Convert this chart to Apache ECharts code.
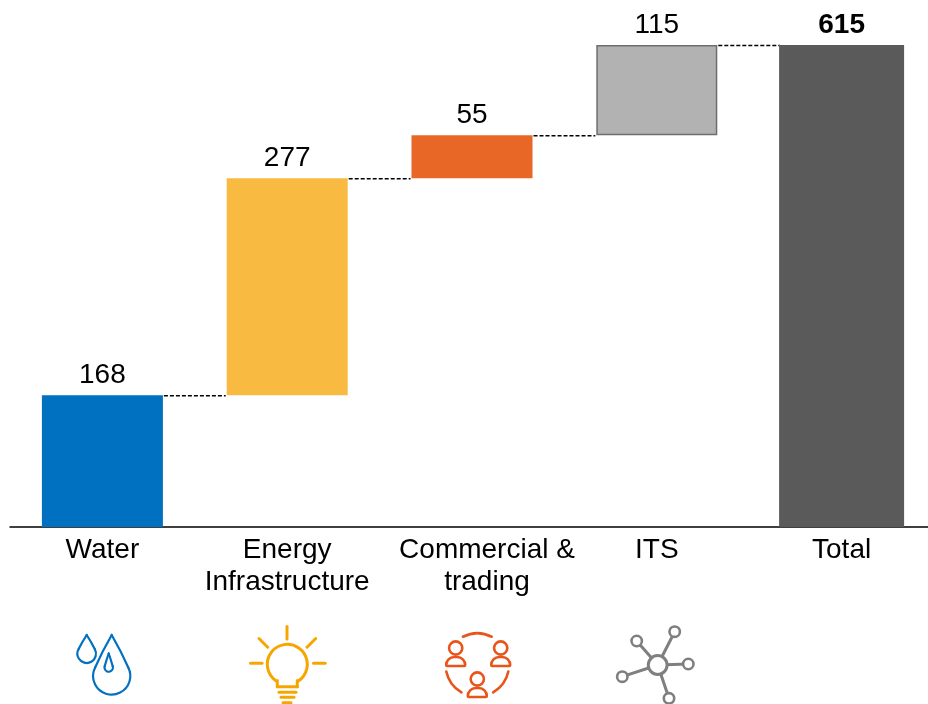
<!DOCTYPE html>
<html><head><meta charset="utf-8">
<style>html,body{margin:0;padding:0;background:#fff}#c{width:928px;height:704px}</style>
<script src="https://cdn.jsdelivr.net/npm/echarts@6/dist/echarts.min.js"></script>
</head><body><div id="c"></div>
<script>
const categories = ['Water', 'Energy\nInfrastructure', 'Commercial &\ntrading', 'ITS', 'Total'];
const increments = [168, 277, 55, 115];
const totalValue = 615;
const barColors = ['#0070C0', '#F8BA41', '#E96726', '#B2B2B2'];
const FONT = '"Liberation Sans", Arial, sans-serif';

let run = 0;
const bases = [], levels = [];
increments.forEach(v => { bases.push(run); run += v; levels.push(run); });

const BAR = 121;
const stroke = (color, w) => ({ stroke: color, lineWidth: w, fill: null, lineCap: 'round' });
const line = (x1, y1, x2, y2, color, w) => ({ type: 'line', silent: true, shape: { x1, y1, x2, y2 }, style: stroke(color, w) });
const curve = (x1, y1, x2, y2, cpx1, cpy1, color, w) => ({ type: 'bezierCurve', silent: true, shape: { x1, y1, x2, y2, cpx1, cpy1 }, style: stroke(color, w) });
const circle = (cx, cy, r, color, w, fill) => ({ type: 'circle', silent: true, shape: { cx, cy, r }, style: Object.assign(stroke(color, w), { fill: fill || null }) });
const arc = (cx, cy, r, a0, a1, color, w) => ({ type: 'arc', silent: true, shape: { cx, cy, r, startAngle: a0, endAngle: a1, clockwise: true }, style: stroke(color, w) });
const deg = d => d * Math.PI / 180;

function drop(x, yTop, r, yC, color, w) {
  const s = r / (yC - yTop), t = Math.asin(s), c = Math.cos(t);
  const px = r * c, py = yC - r * s, bulge = r * 0.06;
  const mx = px / 2 + bulge, my = (yTop + py) / 2;
  return [
    arc(x, yC, r, -t, Math.PI + t, color, w),
    curve(x, yTop, x + px, py, x + mx, my, color, w),
    curve(x, yTop, x - px, py, x - mx, my, color, w)
  ];
}
function person(cx, headY, bodyTop, bodyBottom, color, w) {
  return [
    circle(cx, headY, 6.6, color, w),
    { type: 'rect', silent: true, shape: { x: cx - 9.5, y: bodyTop, width: 19, height: bodyBottom - bodyTop, r: [8, 8, 1, 1] }, style: stroke(color, w) }
  ];
}
const BLUE = '#0070C0', AMB = '#F7A600', ORG = '#E8541A', GRY = '#7F7F7F';
const hub = [657.7, 665];
const nodes = [[674.7, 631.7], [636.7, 641], [688.3, 664], [622.3, 676.7], [669, 698.3]];
const icons = [
  ...drop(86.7, 635, 9.3, 653.7, BLUE, 2.2),
  ...drop(111.7, 635, 18.6, 676, BLUE, 2.2),
  ...drop(108.7, 653.5, 4.2, 667.5, BLUE, 2.2),

  arc(287.3, 664.3, 20, deg(125), deg(55), AMB, 3),
  line(277.3, 680.5, 277.3, 686.7, AMB, 3), line(297.3, 680.5, 297.3, 686.7, AMB, 3),
  line(277.3, 686.7, 297.3, 686.7, AMB, 3),
  line(279, 692.3, 296, 692.3, AMB, 3), line(281, 697.3, 294, 697.3, AMB, 3), line(283, 702.7, 291, 702.7, AMB, 3),
  line(287, 626.5, 287, 639, AMB, 3),
  line(259, 638.5, 267.7, 647.2, AMB, 3), line(315.7, 638.5, 307, 647.2, AMB, 3),
  line(250.5, 663.3, 262, 663.3, AMB, 3), line(313.5, 663.3, 325.2, 663.3, AMB, 3),

  arc(477.3, 665, 31.7, deg(-117), deg(-63), ORG, 2.6),
  arc(477.3, 665, 31.7, deg(12), deg(60), ORG, 2.6),
  arc(477.3, 665, 31.7, deg(120), deg(168), ORG, 2.6),
  ...person(455.7, 648, 657, 666, ORG, 2.6),
  ...person(500.7, 648, 657, 666, ORG, 2.6),
  ...person(477.3, 679, 688, 697, ORG, 2.6),

  ...nodes.map(n => line(hub[0], hub[1], n[0], n[1], GRY, 3)),
  ...nodes.map(n => circle(n[0], n[1], 5.2, GRY, 2.6, '#fff')),
  circle(hub[0], hub[1], 9.4, GRY, 3, '#fff')
];

const valueLabel = (weight) => ({
  show: true, position: 'top', distance: 6, color: '#000',
  fontFamily: FONT, fontSize: 28, fontWeight: weight,
  formatter: p => String(p.value)
});

const chart = echarts.init(document.getElementById('c'), null, { renderer: 'canvas' });
chart.setOption({
  animation: false,
  backgroundColor: '#fff',
  grid: { left: 10, top: 45, width: 924, height: 482, containLabel: false, outerBoundsMode: 'none' },
  xAxis: [{
    type: 'category', data: categories,
    axisLine: { lineStyle: { color: '#000', width: 1.5 } },
    axisTick: { show: false },
    axisLabel: {
      margin: 7, interval: 0, color: '#000',
      formatter: (v, i) => v.split('\n').map(t => i === 2 ? '{o|' + t + '}' : '{n|' + t + '}').join('\n'),
      rich: {
        n: { fontFamily: FONT, fontSize: 28, lineHeight: 32, color: '#000' },
        o: { fontFamily: FONT, fontSize: 28, lineHeight: 32, color: '#000', padding: [0, 0, 0, 30] }
      }
    }
  }, {
    type: 'category', data: categories, show: false
  }],
  yAxis: { type: 'value', min: 0, max: totalValue, show: false },
  series: [
    {
      type: 'bar', stack: 'w', barWidth: BAR, silent: true,
      data: bases.concat([null]), itemStyle: { color: 'transparent' }
    },
    {
      type: 'bar', stack: 'w', barWidth: BAR, silent: true,
      label: valueLabel('normal'),
      data: increments.map((v, i) => ({
        value: v,
        itemStyle: i === 3
          ? { color: barColors[i], borderColor: '#6E6E6E', borderWidth: 1.5 }
          : { color: barColors[i] }
      })).concat([null])
    },
    {
      type: 'bar', xAxisIndex: 1, barWidth: 125, silent: true,
      itemStyle: { color: '#5A5A5A' },
      label: valueLabel('bold'),
      data: [null, null, null, null, totalValue]
    },
    {
      type: 'custom', silent: true, clip: false,
      data: levels.map((l, i) => [i, l]),
      renderItem: (params, api) => {
        const p = api.coord([api.value(0), api.value(1)]);
        const step = api.size([1, 0])[0];
        return {
          type: 'line',
          shape: { x1: p[0] + BAR / 2 + 1, y1: p[1] + 0.5, x2: p[0] + step - BAR / 2 - 1, y2: p[1] + 0.5 },
          style: { stroke: '#000', lineWidth: 1.5, lineDash: [4, 2] }
        };
      }
    }
  ],
  graphic: { elements: icons }
});
</script></body></html>
